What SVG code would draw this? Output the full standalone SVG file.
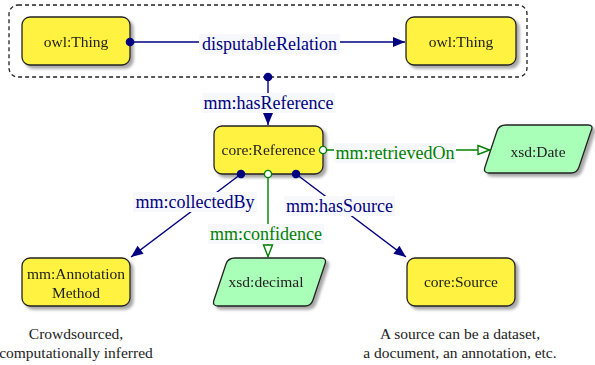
<svg xmlns="http://www.w3.org/2000/svg" width="595" height="365" viewBox="0 0 595 365" font-family="'Liberation Serif', 'DejaVu Serif', serif">
<style>
.nl,.cap,.el{font-family:'Liberation Serif','DejaVu Serif',serif}
.node{fill:#fff240;stroke:#222;stroke-width:1.3}
.lit{fill:#aaffb8;stroke:#222;stroke-width:1.3}
.nl{font-size:15.5px;fill:#222;text-anchor:middle}
.cap{font-size:15.5px;fill:#222;text-anchor:middle}
.obj{stroke:#000080;stroke-width:1.4;fill:none}
.dat{stroke:#008000;stroke-width:1.4;fill:none}
.lbg{fill:#f7f8fc}
.el{font-size:18px;text-anchor:middle}
.elo{fill:#000080}
.eld{fill:#008000}
</style>
<defs>
<filter id="sh" x="-20%" y="-20%" width="140%" height="150%">
<feGaussianBlur in="SourceAlpha" stdDeviation="1.5"/>
<feOffset dx="3" dy="3" result="b"/>
<feComponentTransfer><feFuncA type="linear" slope="0.35"/></feComponentTransfer>
<feMerge><feMergeNode/><feMergeNode in="SourceGraphic"/></feMerge>
</filter>
<marker id="arr" markerUnits="userSpaceOnUse" markerWidth="14" markerHeight="12" viewBox="0 0 14 12" refX="13" refY="6" orient="auto">
<path d="M1,1 L13,6 L1,11 Z" fill="#000080"/>
</marker>
<marker id="oarr" markerUnits="userSpaceOnUse" markerWidth="14" markerHeight="12" viewBox="0 0 14 12" refX="13" refY="6" orient="auto">
<path d="M1,1.5 L12.5,6 L1,10.5 Z" fill="#fff" stroke="#008000" stroke-width="1.4"/>
</marker>
<marker id="dot" markerUnits="userSpaceOnUse" markerWidth="12" markerHeight="12" viewBox="0 0 12 12" refX="6" refY="6" orient="auto">
<circle cx="6" cy="6" r="4.3" fill="#000080"/>
</marker>
<marker id="odot" markerUnits="userSpaceOnUse" markerWidth="12" markerHeight="12" viewBox="0 0 12 12" refX="6" refY="6" orient="auto">
<circle cx="6" cy="6" r="3.6" fill="#fff" stroke="#008000" stroke-width="1.3"/>
</marker>
</defs>
<rect width="595" height="365" fill="#fff"/>

<g id="group-box">
<rect x="9" y="5" width="518" height="72" rx="9" fill="none" stroke="#222" stroke-width="1.3" stroke-dasharray="4,3"/>
</g>

<g id="owl-thing-1" filter="url(#sh)">
<rect class="node" x="22" y="17" width="108" height="48" rx="8"/>
<text class="nl" x="76" y="46.5" font-family="'Liberation Serif', serif">owl:Thing</text>
</g>
<g id="owl-thing-2" filter="url(#sh)">
<rect class="node" x="406" y="17" width="110" height="48" rx="8"/>
<text class="nl" x="461" y="46.5" font-family="'Liberation Serif', serif">owl:Thing</text>
</g>
<g id="core-reference" filter="url(#sh)">
<rect class="node" x="214" y="126" width="109" height="48" rx="8"/>
<text class="nl" x="268.5" y="155" font-family="'Liberation Serif', serif">core:Reference</text>
</g>
<g id="xsd-date" filter="url(#sh)">
<path class="lit" d="M506,125 L588,125 Q594,125 591,131 L579,167 Q577,173 571,173 L489,173 Q483,173 485,167 L497,131 Q499,125 506,125 Z"/>
<text class="nl" x="538" y="157" font-family="'Liberation Serif', serif">xsd:Date</text>
</g>
<g id="mm-annotation-method" filter="url(#sh)">
<rect class="node" x="22" y="258" width="108" height="48" rx="8"/>
<text class="nl" x="76" y="279" font-family="'Liberation Serif', serif">mm:Annotation</text>
<text class="nl" x="76" y="298" font-family="'Liberation Serif', serif">Method</text>
</g>
<g id="xsd-decimal" filter="url(#sh)">
<path class="lit" d="M235,258 L321,258 Q327,258 325,264 L313,300 Q311,306 305,306 L218,306 Q212,306 214,300 L226,264 Q228,258 235,258 Z"/>
<text class="nl" x="266" y="287" font-family="'Liberation Serif', serif">xsd:decimal</text>
</g>
<g id="core-source" filter="url(#sh)">
<rect class="node" x="407" y="258" width="108" height="48" rx="8"/>
<text class="nl" x="461" y="287" font-family="'Liberation Serif', serif">core:Source</text>
</g>

<g id="connectors">
<path class="obj" d="M130,42 L405,42" marker-start="url(#dot)" marker-end="url(#arr)"/>
<path class="obj" d="M268,77 L268,125" marker-start="url(#dot)" marker-end="url(#arr)"/>
<path class="dat" d="M323,150 L490,150" marker-start="url(#odot)" marker-end="url(#oarr)"/>
<path class="obj" d="M241,174 L131,257" marker-start="url(#dot)" marker-end="url(#arr)"/>
<path class="dat" d="M268,174 L268,257" marker-start="url(#odot)" marker-end="url(#oarr)"/>
<path class="obj" d="M296,174 L406,257" marker-start="url(#dot)" marker-end="url(#arr)"/>

<rect class="lbg" x="199" y="34" width="141" height="20"/>
<text class="el elo" x="269.5" y="50" font-family="'Liberation Serif', serif">disputableRelation</text>
<rect class="lbg" x="202" y="93" width="133" height="20"/>
<text class="el elo" x="268.5" y="109" font-family="'Liberation Serif', serif">mm:hasReference</text>
<rect class="lbg" x="334" y="143" width="122" height="20"/>
<text class="el eld" x="395" y="159" font-family="'Liberation Serif', serif">mm:retrievedOn</text>
<rect class="lbg" x="133" y="192" width="124" height="20"/>
<text class="el elo" x="195" y="208" font-family="'Liberation Serif', serif">mm:collectedBy</text>
<rect class="lbg" x="208" y="224" width="116" height="20"/>
<text class="el eld" x="266" y="240" font-family="'Liberation Serif', serif">mm:confidence</text>
<rect class="lbg" x="284" y="196" width="111" height="20"/>
<text class="el elo" x="339.5" y="212" font-family="'Liberation Serif', serif">mm:hasSource</text>
</g>

<g id="captions">
<text class="cap" x="76" y="339" font-family="'Liberation Serif', serif">Crowdsourced,</text>
<text class="cap" x="76" y="358" font-family="'Liberation Serif', serif">computationally inferred</text>
<text class="cap" x="460" y="339" font-family="'Liberation Serif', serif">A source can be a dataset,</text>
<text class="cap" x="460" y="358" font-family="'Liberation Serif', serif">a document, an annotation, etc.</text>
</g>
</svg>
